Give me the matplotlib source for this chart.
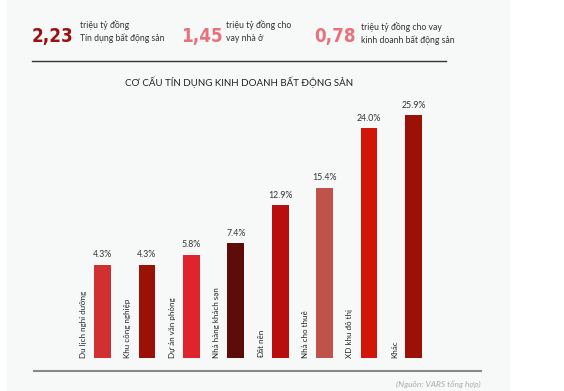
import matplotlib.pyplot as plt
from matplotlib.patches import Rectangle
from matplotlib.lines import Line2D

W, H = 564, 391

categories = ["Du lịch nghỉ dưỡng", "Khu công nghiệp", "Dự án văn phòng",
              "Nhà hàng khách sạn", "Đất nền", "Nhà cho thuê",
              "XD khu đô thị", "Khác"]
shares = [4.3, 4.3, 5.8, 7.4, 12.9, 15.4, 24.0, 25.9]
bar_colors = ["#d03030", "#9b1106", "#e0242d", "#5e0c0a",
              "#b90e0e", "#c0524c", "#d11507", "#9b1106"]

headline_values = ["2,23", "1,45", "0,78"]
headline_texts = [["triệu tỷ đồng", "Tín dụng bất động sản"],
                  ["triệu tỷ đồng cho", "vay nhà ở"],
                  ["triệu tỷ đồng cho vay", "kinh doanh bất động sản"]]
headline_colors = ["#9b1010", "#e8727c", "#e8727c"]

plt.rcParams['font.family'] = ['Lato', 'DejaVu Sans']

fig = plt.figure(figsize=(W / 100, H / 100), dpi=100)
fig.patch.set_facecolor("white")

# gray panel
fig.patches.append(Rectangle((7 / W, 0), (510 - 7) / W, 1, transform=fig.transFigure,
                             facecolor="#f7f9f9", edgecolor="none", zorder=-5))


def px(x, y):
    return x / W, 1 - y / H


# headline numbers
num_x = [32, 181, 314]
txt_x = [80, 226, 361]
base_y = [[28, 41], [28, 41], [30, 43]]
for i in range(3):
    fig.text(*px(num_x[i], 42), headline_values[i], fontsize=13.5, fontweight="bold",
             family=["Liberation Sans Narrow", "DejaVu Sans"], stretch="condensed",
             color=headline_colors[i], ha="left", va="baseline")
    for j in range(2):
        fig.text(*px(txt_x[i], base_y[i][j]), headline_texts[i][j], fontsize=6.2,
                 color="#333333", ha="left", va="baseline")

fig.add_artist(Line2D([32 / W, 446 / W], [1 - 61 / H] * 2, transform=fig.transFigure,
                      color="#333333", lw=1))
fig.add_artist(Line2D([34 / W, 481 / W], [1 - 371 / H] * 2, transform=fig.transFigure,
                      color="#888888", lw=1.5))

fig.text(*px(239, 86), "CƠ CẤU TÍN DỤNG KINH DOANH BẤT ĐỘNG SẢN", fontsize=7,
         color="#222222", ha="center", va="baseline")
fig.text(*px(481, 387), "(Nguồn: VARS tổng hợp)", fontsize=6, style="italic",
         color="#aaaaaa", ha="right", va="baseline")

# bar chart
y_floor = -9.1
ax = fig.add_axes([69.2 / W, (H - 358) / H, (446.8 - 69.2) / W, 258 / H])
ax.set_zorder(2)
ax.set_facecolor("none")
xs = range(len(categories))
ax.bar(xs, [v - y_floor for v in shares], bottom=y_floor, width=0.38,
       color=bar_colors, zorder=2)
ax.set_xlim(-0.75, 7.75)
ax.set_ylim(y_floor, y_floor + 258 / 6.94)
for i, v in enumerate(shares):
    ax.annotate(f"{v:.1f}%", (i, v), xytext=(0, 4), textcoords="offset points",
                ha="center", va="bottom", fontsize=6.3, color="#333333")
    ax.text(i - 0.43, y_floor, categories[i], rotation=90, ha="center", va="bottom",
            fontsize=5.8, color="#222222")
ax.axis("off")

fig.savefig("out.png", dpi=100)
